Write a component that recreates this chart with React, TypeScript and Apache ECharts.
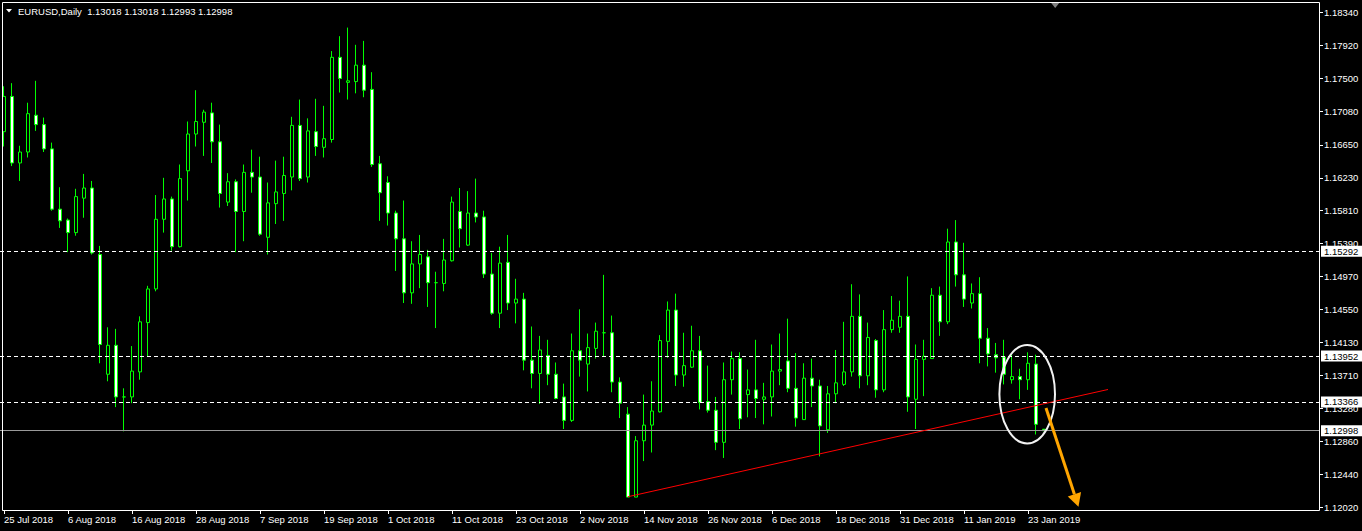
import React, { useEffect, useRef } from "react";
import * as echarts from "echarts";

const FONT = "'Liberation Sans', Arial, sans-serif";

const dates = [
  "25 Jul 2018", "26 Jul 2018", "27 Jul 2018", "30 Jul 2018", "31 Jul 2018", "1 Aug 2018", "2 Aug 2018", "3 Aug 2018",
  "6 Aug 2018", "7 Aug 2018", "8 Aug 2018", "9 Aug 2018", "10 Aug 2018", "13 Aug 2018", "14 Aug 2018", "15 Aug 2018",
  "16 Aug 2018", "17 Aug 2018", "20 Aug 2018", "21 Aug 2018", "22 Aug 2018", "23 Aug 2018", "24 Aug 2018", "27 Aug 2018",
  "28 Aug 2018", "29 Aug 2018", "30 Aug 2018", "31 Aug 2018", "3 Sep 2018", "4 Sep 2018", "5 Sep 2018", "6 Sep 2018",
  "7 Sep 2018", "10 Sep 2018", "11 Sep 2018", "12 Sep 2018", "13 Sep 2018", "14 Sep 2018", "17 Sep 2018", "18 Sep 2018",
  "19 Sep 2018", "20 Sep 2018", "21 Sep 2018", "24 Sep 2018", "25 Sep 2018", "26 Sep 2018", "27 Sep 2018", "28 Sep 2018",
  "1 Oct 2018", "2 Oct 2018", "3 Oct 2018", "4 Oct 2018", "5 Oct 2018", "8 Oct 2018", "9 Oct 2018", "10 Oct 2018",
  "11 Oct 2018", "12 Oct 2018", "15 Oct 2018", "16 Oct 2018", "17 Oct 2018", "18 Oct 2018", "19 Oct 2018", "22 Oct 2018",
  "23 Oct 2018", "24 Oct 2018", "25 Oct 2018", "26 Oct 2018", "29 Oct 2018", "30 Oct 2018", "31 Oct 2018", "1 Nov 2018",
  "2 Nov 2018", "5 Nov 2018", "6 Nov 2018", "7 Nov 2018", "8 Nov 2018", "9 Nov 2018", "12 Nov 2018", "13 Nov 2018",
  "14 Nov 2018", "15 Nov 2018", "16 Nov 2018", "19 Nov 2018", "20 Nov 2018", "21 Nov 2018", "22 Nov 2018", "23 Nov 2018",
  "26 Nov 2018", "27 Nov 2018", "28 Nov 2018", "29 Nov 2018", "30 Nov 2018", "3 Dec 2018", "4 Dec 2018", "5 Dec 2018",
  "6 Dec 2018", "7 Dec 2018", "10 Dec 2018", "11 Dec 2018", "12 Dec 2018", "13 Dec 2018", "14 Dec 2018", "17 Dec 2018",
  "18 Dec 2018", "19 Dec 2018", "20 Dec 2018", "21 Dec 2018", "24 Dec 2018", "26 Dec 2018", "27 Dec 2018", "28 Dec 2018",
  "31 Dec 2018", "2 Jan 2019", "3 Jan 2019", "4 Jan 2019", "7 Jan 2019", "8 Jan 2019", "9 Jan 2019", "10 Jan 2019",
  "11 Jan 2019", "14 Jan 2019", "15 Jan 2019", "16 Jan 2019", "17 Jan 2019", "18 Jan 2019", "21 Jan 2019", "22 Jan 2019",
  "23 Jan 2019", "24 Jan 2019", "25 Jan 2019",
];

const opens = [
  1.1682, 1.1727, 1.1642, 1.1656, 1.1703, 1.1691, 1.1660, 1.1583, 1.1569, 1.1553,
  1.1597, 1.1610, 1.1525, 1.1372, 1.1409, 1.1343, 1.1343, 1.1375, 1.1438, 1.1481,
  1.1570, 1.1596, 1.1535, 1.1632, 1.1679, 1.1694, 1.1706, 1.1669, 1.1592, 1.1618,
  1.1580, 1.1630, 1.1624, 1.1547, 1.1590, 1.1603, 1.1624, 1.1690, 1.1624, 1.1682,
  1.1662, 1.1672, 1.1777, 1.1745, 1.1746, 1.1767, 1.1736, 1.1641, 1.1617, 1.1578,
  1.1545, 1.1476, 1.1513, 1.1522, 1.1489, 1.1488, 1.1517, 1.1580, 1.1537, 1.1578,
  1.1573, 1.1500, 1.1450, 1.1515, 1.1463, 1.1468, 1.1390, 1.1373, 1.1396, 1.1372,
  1.1343, 1.1313, 1.1402, 1.1385, 1.1405, 1.1425, 1.1425, 1.1362, 1.1321, 1.1215,
  1.1287, 1.1307, 1.1324, 1.1414, 1.1454, 1.1371, 1.1381, 1.1402, 1.1337, 1.1326,
  1.1285, 1.1365, 1.1392, 1.1346, 1.1352, 1.1340, 1.1343, 1.1376, 1.1389, 1.1354,
  1.1314, 1.1367, 1.1357, 1.1301, 1.1347, 1.1359, 1.1375, 1.1446, 1.1370, 1.1415,
  1.1352, 1.1429, 1.1432, 1.1446, 1.1340, 1.1391, 1.1392, 1.1473, 1.1439, 1.1541,
  1.1499, 1.1463, 1.1475, 1.1418, 1.1397, 1.1394, 1.1365, 1.1369, 1.1365, 1.1385,
  1.13018,
];

const closes = [
  1.1727, 1.1642, 1.1656, 1.1705, 1.1691, 1.1660, 1.1583, 1.1568, 1.1553, 1.1599,
  1.1610, 1.1527, 1.1410, 1.1409, 1.1343, 1.1343, 1.1376, 1.1439, 1.1481, 1.1570,
  1.1596, 1.1535, 1.1622, 1.1679, 1.1695, 1.1707, 1.1669, 1.1603, 1.1618, 1.1580,
  1.1630, 1.1624, 1.1551, 1.1591, 1.1605, 1.1626, 1.1690, 1.1622, 1.1683, 1.1663,
  1.1673, 1.1777, 1.1750, 1.1747, 1.1767, 1.1735, 1.1640, 1.1604, 1.1578, 1.1545,
  1.1476, 1.1513, 1.1525, 1.1489, 1.1489, 1.1518, 1.1592, 1.1558, 1.1578, 1.1573,
  1.1500, 1.1450, 1.1514, 1.1463, 1.1468, 1.1390, 1.1373, 1.1403, 1.1372, 1.1341,
  1.1313, 1.1402, 1.1390, 1.1406, 1.1427, 1.1425, 1.1362, 1.1335, 1.1215, 1.1287,
  1.1307, 1.1325, 1.1415, 1.1454, 1.1371, 1.1383, 1.1402, 1.1336, 1.1326, 1.1285,
  1.1365, 1.1392, 1.1315, 1.1352, 1.1341, 1.1343, 1.1376, 1.1378, 1.1354, 1.1316,
  1.1367, 1.1357, 1.1306, 1.1347, 1.1361, 1.1375, 1.1446, 1.1370, 1.1419, 1.1352,
  1.1429, 1.1441, 1.1446, 1.1343, 1.1391, 1.1395, 1.1473, 1.1439, 1.1541, 1.1499,
  1.1468, 1.1475, 1.1418, 1.1398, 1.1393, 1.1372, 1.1369, 1.1365, 1.1386, 1.1308,
  1.12998,
];

const lows = [
  1.1663, 1.1638, 1.1619, 1.1649, 1.1683, 1.1656, 1.1581, 1.1559, 1.1528, 1.1549,
  1.1572, 1.1525, 1.1386, 1.1363, 1.1330, 1.1299, 1.1335, 1.1365, 1.1394, 1.1478,
  1.1553, 1.1530, 1.1534, 1.1594, 1.1663, 1.1651, 1.1642, 1.1585, 1.1587, 1.1528,
  1.1542, 1.1604, 1.1549, 1.1525, 1.1564, 1.1568, 1.1607, 1.1619, 1.1617, 1.1651,
  1.1649, 1.1668, 1.1732, 1.1723, 1.1731, 1.1726, 1.1637, 1.1568, 1.1562, 1.1504,
  1.1463, 1.1462, 1.1482, 1.1458, 1.1431, 1.1478, 1.1516, 1.1534, 1.1536, 1.1566,
  1.1495, 1.1448, 1.1431, 1.1454, 1.1437, 1.1377, 1.1354, 1.1334, 1.1358, 1.1340,
  1.1302, 1.1311, 1.1369, 1.1350, 1.1392, 1.1394, 1.1349, 1.1316, 1.1215, 1.1215,
  1.1261, 1.1272, 1.1323, 1.1393, 1.1357, 1.1356, 1.1380, 1.1327, 1.1323, 1.1275,
  1.1265, 1.1346, 1.1302, 1.1317, 1.1316, 1.1308, 1.1318, 1.1358, 1.1349, 1.1305,
  1.1314, 1.1330, 1.1267, 1.1297, 1.1335, 1.1357, 1.1369, 1.1354, 1.1358, 1.1342,
  1.1349, 1.1425, 1.1425, 1.1324, 1.1302, 1.1344, 1.1392, 1.1421, 1.1436, 1.1484,
  1.1458, 1.1456, 1.1386, 1.1382, 1.1374, 1.1359, 1.1360, 1.1340, 1.1352, 1.1295,
  1.12993,
];

const highs = [
  1.1740, 1.1744, 1.1664, 1.1719, 1.1747, 1.1700, 1.1668, 1.1611, 1.1571, 1.1609,
  1.1628, 1.1619, 1.1536, 1.1432, 1.1430, 1.1354, 1.1408, 1.1446, 1.1485, 1.1601,
  1.1623, 1.1599, 1.1640, 1.1695, 1.1735, 1.1710, 1.1719, 1.1691, 1.1629, 1.1621,
  1.1640, 1.1659, 1.1650, 1.1617, 1.1645, 1.1650, 1.1701, 1.1723, 1.1699, 1.1724,
  1.1715, 1.1785, 1.1804, 1.1815, 1.1793, 1.1798, 1.1758, 1.1651, 1.1625, 1.1581,
  1.1594, 1.1542, 1.1550, 1.1531, 1.1503, 1.1545, 1.1599, 1.1610, 1.1606, 1.1622,
  1.1581, 1.1527, 1.1535, 1.1550, 1.1494, 1.1476, 1.1433, 1.1421, 1.1416, 1.1387,
  1.1360, 1.1424, 1.1455, 1.1424, 1.1438, 1.1499, 1.1447, 1.1368, 1.1330, 1.1293,
  1.1346, 1.1363, 1.1422, 1.1465, 1.1475, 1.1425, 1.1434, 1.1421, 1.1383, 1.1343,
  1.1387, 1.1401, 1.1400, 1.1378, 1.1416, 1.1361, 1.1410, 1.1424, 1.1443, 1.1399,
  1.1386, 1.1392, 1.1365, 1.1357, 1.1403, 1.1439, 1.1487, 1.1474, 1.1438, 1.1417,
  1.1454, 1.1472, 1.1466, 1.1497, 1.1410, 1.1416, 1.1482, 1.1484, 1.1558, 1.1569,
  1.1540, 1.1488, 1.1496, 1.1431, 1.1412, 1.1416, 1.1397, 1.1379, 1.1400, 1.1397,
  1.13018,
];

const priceTicks = [
  1.1834, 1.1792, 1.175, 1.1708, 1.1665, 1.1623, 1.1581, 1.1539,
  1.1497, 1.1455, 1.1413, 1.1371, 1.1328, 1.1286, 1.1244, 1.1202,
];

const levelLines = [1.15292, 1.13952, 1.13366];
const bidPrice = 1.12998;
const trendStart = [78, 1.12155];
const trendEnd = [138, 1.13525];
const ellipseCenter = [127.9, 1.13465];
const arrowFrom = [130.25, 1.13289];
const arrowTo = [134.31, 1.12028];
const shiftMarkerIndex = 131.4;
const FUTURE_SLOTS = 34;

const symbolName = "EURUSD,Daily";

export default function App() {
  const ref = useRef<HTMLDivElement>(null);

  useEffect(() => {
    if (!ref.current) return;
    const chart = echarts.init(ref.current, null, { renderer: "svg" });
    const n = dates.length;
    const cats = dates.concat(Array.from({ length: FUTURE_SLOTS }, (_, k) => "slot" + k));
    const candles = dates.map((_, i) => [opens[i], closes[i], lows[i], highs[i]]);
    const showIdx = (i: number) => i % 8 === 0 && i < n;

    const levelLabel = {
      show: true,
      position: "end",
      distance: 1,
      formatter: (p: any) => Number(p.value).toFixed(5),
      color: "#000",
      backgroundColor: "#fff",
      padding: [1, 6, 0, 3],
      fontSize: 9.5,
      lineHeight: 10,
      fontFamily: FONT,
    };

    chart.setOption({
      animation: false,
      backgroundColor: "#000",
      grid: { left: 0, top: 2, width: 1320, height: 508, containLabel: false },
      xAxis: {
        type: "category",
        data: cats,
        boundaryGap: true,
        axisLine: { show: false },
        axisTick: {
          show: true,
          alignWithLabel: true,
          interval: (i: number) => showIdx(i),
          length: 4,
          lineStyle: { color: "#fff", width: 1 },
        },
        axisLabel: {
          interval: (i: number) => showIdx(i),
          align: "left",
          color: "#fff",
          fontSize: 9.5,
          fontFamily: FONT,
          margin: 4,
          formatter: (v: string, i: number) => (i < n ? v : ""),
        },
        splitLine: { show: false },
      },
      yAxis: {
        type: "value",
        position: "right",
        min: 1.11985,
        max: 1.18477,
        scale: true,
        axisLine: { show: false },
        axisTick: { show: true, length: 3, customValues: priceTicks, lineStyle: { color: "#fff" } },
        axisLabel: {
          customValues: priceTicks,
          formatter: (v: number) => v.toFixed(5),
          color: "#fff",
          fontSize: 9.5,
          fontFamily: FONT,
          margin: 4,
        },
        splitLine: { show: false },
      },
      series: [
        {
          type: "candlestick",
          data: candles,
          barWidth: 4,
          itemStyle: {
            color: "#000000",
            color0: "#ffffff",
            borderColor: "#00ff00",
            borderColor0: "#00ff00",
            borderColorDoji: "#00ff00",
            borderWidth: 1,
          },
          markLine: {
            silent: true,
            symbol: ["none", "none"],
            precision: 5,
            animation: false,
            data: [
              ...levelLines.map((v) => ({
                yAxis: v,
                lineStyle: { color: "#ffffff", type: [4, 3], width: 1 },
                label: levelLabel,
              })),
              {
                yAxis: bidPrice,
                lineStyle: { color: "#9a9a9a", type: "solid", width: 1 },
                label: levelLabel,
              },
              [
                {
                  coord: trendStart,
                  lineStyle: { color: "#ff0000", type: "solid", width: 1 },
                  label: { show: false },
                },
                {
                  coord: trendEnd,
                  lineStyle: { color: "#ff0000", type: "solid", width: 1 },
                  label: { show: false },
                },
              ],
            ],
          },
        },
      ],
    });

    const x0 = chart.convertToPixel({ xAxisIndex: 0 }, 0) as number;
    const x1 = chart.convertToPixel({ xAxisIndex: 0 }, 1) as number;
    const px = (idx: number, price: number) => [
      x0 + (x1 - x0) * idx,
      chart.convertToPixel({ yAxisIndex: 0 }, price) as number,
    ];

    const ec = px(ellipseCenter[0], ellipseCenter[1]);
    const s = px(arrowFrom[0], arrowFrom[1]);
    const t = px(arrowTo[0], arrowTo[1]);
    const dx = t[0] - s[0];
    const dy = t[1] - s[1];
    const len = Math.sqrt(dx * dx + dy * dy);
    const ux = dx / len;
    const uy = dy / len;
    const headLen = 13;
    const headHalf = 7;
    const bx = t[0] - ux * headLen;
    const by = t[1] - uy * headLen;
    const orange = "#ffa500";
    const sm = px(shiftMarkerIndex, 0);
    const last = n - 1;
    const headerText =
      symbolName +
      "  " +
      [opens[last], highs[last], lows[last], closes[last]].map((v) => v.toFixed(5)).join(" ");

    chart.setOption({
      graphic: [
        {
          type: "rect",
          silent: true,
          z: 50,
          shape: { x: 2.5, y: 2.5, width: 1317, height: 508 },
          style: { fill: "none", stroke: "#ffffff", lineWidth: 1 },
        },
        {
          type: "polygon",
          silent: true,
          z: 60,
          shape: { points: [[6, 9], [12, 9], [9, 12.5]] },
          style: { fill: "#ffffff" },
        },
        {
          type: "text",
          silent: true,
          z: 60,
          x: 18,
          y: 11,
          style: {
            text: headerText,
            fill: "#ffffff",
            fontSize: 9.5,
            fontFamily: FONT,
            verticalAlign: "middle",
            align: "left",
          },
        },
        {
          type: "polygon",
          silent: true,
          z: 60,
          shape: { points: [[sm[0] - 4, 3], [sm[0] + 4, 3], [sm[0], 8]] },
          style: { fill: "#808080" },
        },
        {
          type: "ellipse",
          silent: true,
          z: 70,
          shape: { cx: ec[0], cy: ec[1], rx: 27.8, ry: 49.2 },
          style: { fill: "none", stroke: "#f2f2f2", lineWidth: 2 },
        },
        {
          type: "line",
          silent: true,
          z: 70,
          shape: { x1: s[0], y1: s[1], x2: bx, y2: by },
          style: { stroke: orange, lineWidth: 3 },
        },
        {
          type: "polygon",
          silent: true,
          z: 70,
          shape: {
            points: [
              [t[0], t[1]],
              [bx - uy * headHalf, by + ux * headHalf],
              [bx + uy * headHalf, by - ux * headHalf],
            ],
          },
          style: { fill: orange },
        },
      ],
    });

    return () => chart.dispose();
  }, []);

  return (
    <div
      ref={ref}
      style={{ position: "absolute", left: 0, top: 0, width: 1362, height: 531, background: "#000" }}
    />
  );
}
